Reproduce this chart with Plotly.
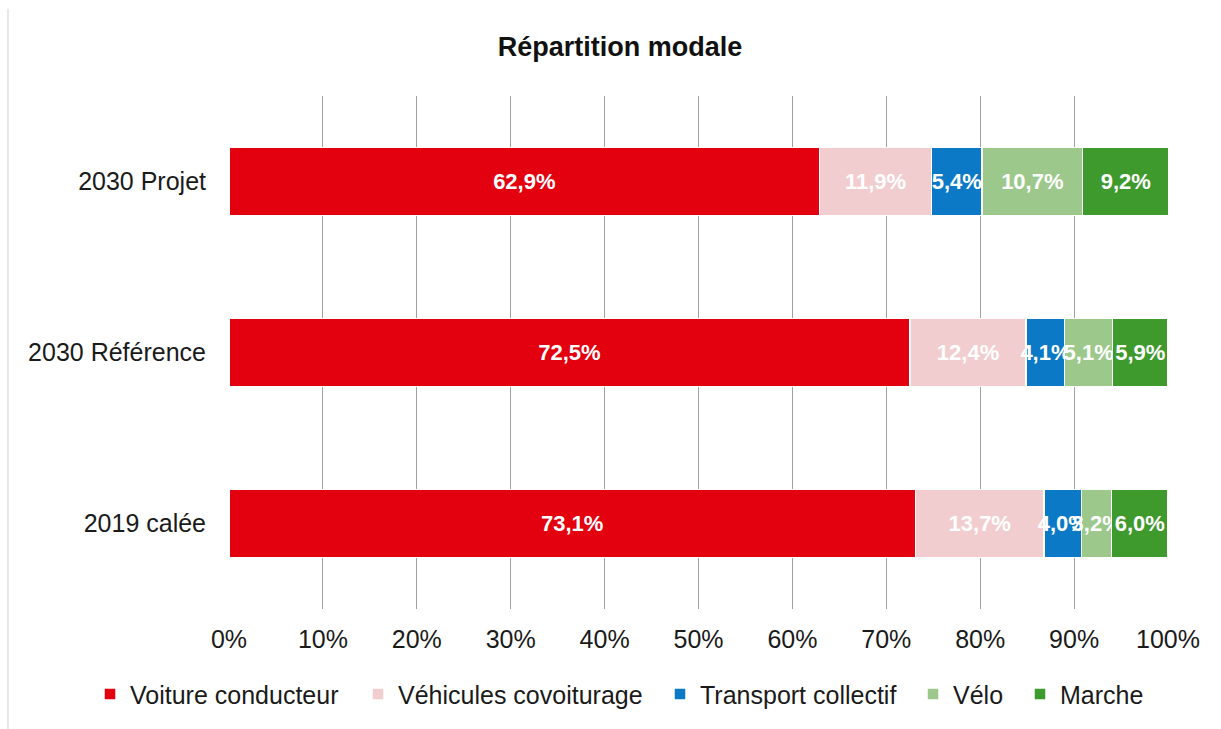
import plotly.graph_objects as go

categories = ["2019 calée", "2030 Référence", "2030 Projet"]
voiture = [73.1, 72.5, 62.9]
covoit = [13.7, 12.4, 11.9]
transport = [4.0, 4.1, 5.4]
velo = [3.2, 5.1, 10.7]
marche = [6.0, 5.9, 9.2]

series = [
    ("Voiture conducteur", voiture, "#E3000F"),
    ("Véhicules covoiturage", covoit, "#F2CDD0"),
    ("Transport collectif", transport, "#0B79C6"),
    ("Vélo", velo, "#9CC98B"),
    ("Marche", marche, "#3E9A2C"),
]

tick_vals = [0, 10, 20, 30, 40, 50, 60, 70, 80, 90, 100]
tick_text = ["0%", "10%", "20%", "30%", "40%", "50%", "60%", "70%", "80%", "90%", "100%"]

FONT = "Liberation Sans, Arial, sans-serif"
PL, PW = 229, 939
legend_left_px = [104, 372, 674, 927, 1034]

fig = go.Figure()
for i, (name, vals, col) in enumerate(series):
    lg = "legend" if i == 0 else f"legend{i + 1}"
    fig.add_trace(go.Bar(
        name=name, y=categories, x=vals, orientation="h",
        marker=dict(color=col, line=dict(color="white", width=1.5)),
        text=[f"{v:.1f}%".replace(".", ",") for v in vals],
        textposition="inside", insidetextanchor="middle", textangle=0,
        textfont=dict(family=FONT, size=22, color="white", weight="bold"),
        constraintext="none", hoverinfo="skip", legend=lg,
    ))

legend_common = dict(orientation="h", xanchor="left", y=-0.166, yanchor="middle",
                     font=dict(family=FONT, size=25, color="#1a1a1a"),
                     itemwidth=30, bgcolor="rgba(0,0,0,0)", borderwidth=0)
layout_legends = {}
for i, px in enumerate(legend_left_px):
    key = "legend" if i == 0 else f"legend{i + 1}"
    layout_legends[key] = dict(legend_common, x=(px - 14 - PL) / PW)

fig.update_layout(
    barmode="stack", bargap=0.605,
    width=1221, height=729,
    margin=dict(l=PL, r=1221 - PL - PW, t=96, b=116),
    paper_bgcolor="white", plot_bgcolor="white",
    uniformtext=dict(minsize=22, mode="show"),
    title=dict(text="<b>Répartition modale</b>", x=(620 - PL) / PW, xref="paper", xanchor="center",
               y=1 - 47 / 729, yanchor="middle",
               font=dict(family=FONT, size=27, color="#111111")),
    showlegend=True,
    **layout_legends,
)
fig.update_xaxes(range=[0, 100], tickvals=tick_vals, ticktext=tick_text,
                 showgrid=True, gridcolor="#a0a0a0", gridwidth=1, zeroline=False,
                 showline=False, ticks="", ticklabelstandoff=13,
                 tickfont=dict(family=FONT, size=25, color="#1a1a1a"))
fig.update_yaxes(categoryorder="array", categoryarray=categories,
                 showgrid=False, showline=False, ticks="", ticklabelstandoff=22,
                 tickfont=dict(family=FONT, size=25, color="#1a1a1a"))

fig.add_shape(type="line", xref="paper", yref="paper",
              x0=-221 / PW, x1=-221 / PW, y0=-0.24, y1=1.17,
              line=dict(color="#cfcfd8", width=1))

fig.write_html("out.html")
